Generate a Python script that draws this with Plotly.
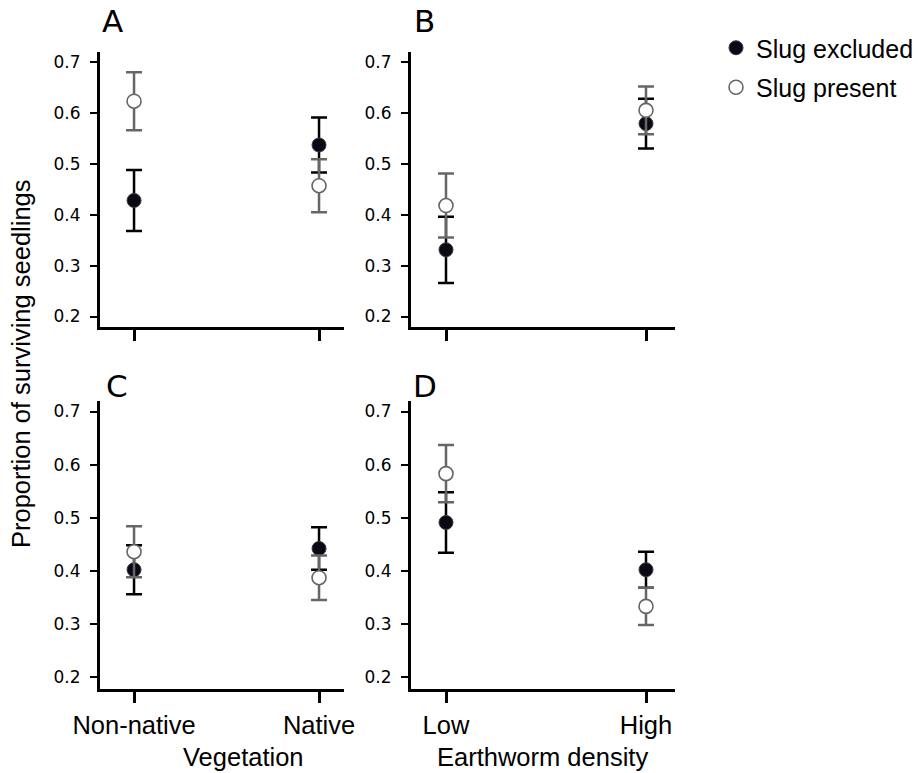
import plotly.graph_objects as go

W, H = 919, 773

# Categories
vegetation = ["Non-native", "Native"]
earthworm = ["Low", "High"]

# Panel A: vegetation (first response)
a_excl_mean = [0.428, 0.537]
a_excl_se = [0.060, 0.054]
a_pres_mean = [0.623, 0.457]
a_pres_se = [0.057, 0.052]

# Panel B: earthworm density (first response)
b_excl_mean = [0.331, 0.579]
b_excl_se = [0.065, 0.049]
b_pres_mean = [0.418, 0.605]
b_pres_se = [0.063, 0.047]

# Panel C: vegetation (second response)
c_excl_mean = [0.402, 0.442]
c_excl_se = [0.046, 0.040]
c_pres_mean = [0.436, 0.387]
c_pres_se = [0.048, 0.042]

# Panel D: earthworm density (second response)
d_excl_mean = [0.491, 0.402]
d_excl_se = [0.057, 0.034]
d_pres_mean = [0.583, 0.333]
d_pres_se = [0.054, 0.035]

y_ticks = [0.2, 0.3, 0.4, 0.5, 0.6, 0.7]
panel_letters = ["A", "B", "C", "D"]

SANS = "Liberation Sans, Arial, Helvetica, sans-serif"
DEJAVU = "DejaVu Sans, sans-serif"
SANS_SIZE = 25.5


def px_x(v):
    return v / W


def px_y(v):
    return 1 - v / H


panels = [
    # (letter, cats, excl mean, excl se, pres mean, pres se, x px box, y px box, x range, y range)
    ("A", vegetation, a_excl_mean, a_excl_se, a_pres_mean, a_pres_se,
     (100, 344), (52, 327), [-0.184, 1.135], [0.1794, 0.7196]),
    ("B", earthworm, b_excl_mean, b_excl_se, b_pres_mean, b_pres_se,
     (411, 675), (52, 327), [-0.175, 1.145], [0.1794, 0.7196]),
    ("C", vegetation, c_excl_mean, c_excl_se, c_pres_mean, c_pres_se,
     (100, 344), (401, 689), [-0.184, 1.135], [0.1774, 0.7198]),
    ("D", earthworm, d_excl_mean, d_excl_se, d_pres_mean, d_pres_se,
     (411, 675), (401, 689), [-0.175, 1.145], [0.1774, 0.7198]),
]

# baseline (px from top) of each panel letter
letter_baseline = {"A": 33, "B": 33, "C": 398, "D": 398}
letter_left = {"A": 100, "B": 412, "C": 104, "D": 411}

fig = go.Figure()
layout = {}
annotations = []

for i, (letter, cats, em, es, pm, ps, xb, yb, xr, yr) in enumerate(panels):
    n = i + 1
    xa = "x" if n == 1 else f"x{n}"
    ya = "y" if n == 1 else f"y{n}"
    xkey = "xaxis" if n == 1 else f"xaxis{n}"
    ykey = "yaxis" if n == 1 else f"yaxis{n}"
    bottom_row = letter in ("C", "D")

    xs = list(range(len(cats)))
    fig.add_trace(go.Scatter(
        x=xs, y=em, mode="markers", name="Slug excluded",
        legendgroup="excl", showlegend=(n == 1),
        xaxis=xa, yaxis=ya,
        marker=dict(size=14, color="#0a0a14", symbol="circle",
                    line=dict(color="#3a3a3a", width=1)),
        error_y=dict(type="data", array=es, color="#000000",
                     thickness=2.5, width=8),
    ))
    fig.add_trace(go.Scatter(
        x=xs, y=pm, mode="markers", name="Slug present",
        legendgroup="pres", showlegend=(n == 1),
        xaxis=xa, yaxis=ya,
        marker=dict(size=14, color="#ffffff", symbol="circle",
                    line=dict(color="#666666", width=1.6)),
        error_y=dict(type="data", array=ps, color="#666666",
                     thickness=2.5, width=8),
    ))

    layout[xkey] = dict(
        domain=[px_x(xb[0]), px_x(xb[1])], anchor=ya, range=xr,
        tickmode="array", tickvals=xs,
        ticktext=cats if bottom_row else ["", ""],
        showticklabels=bottom_row,
        ticks="outside", ticklen=11, tickwidth=3, tickcolor="black",
        showline=True, linewidth=3, linecolor="black",
        showgrid=False, zeroline=False,
        tickfont=dict(family=SANS, size=SANS_SIZE, color="black"),
        ticklabelstandoff=0,
    )
    layout[ykey] = dict(
        domain=[px_y(yb[1]), px_y(yb[0])], anchor=xa, range=yr,
        tickmode="array", tickvals=y_ticks,
        ticktext=[f"{v:.1f}" for v in y_ticks],
        ticks="outside", ticklen=7, tickwidth=2, tickcolor="black",
        showline=True, linewidth=3, linecolor="black",
        showgrid=False, zeroline=False,
        tickfont=dict(family=DEJAVU, size=17, color="black"),
        ticklabelstandoff=6,
    )

    # Panel letter
    annotations.append(dict(
        text=letter, xref="paper", yref="paper",
        x=px_x(letter_left[letter]), y=px_y(letter_baseline[letter] + 8),
        xanchor="left", yanchor="bottom", showarrow=False,
        font=dict(family=DEJAVU, size=31, color="black"),
    ))

# Axis titles
annotations.append(dict(
    text="Vegetation", xref="paper", yref="paper",
    x=px_x(243), y=px_y(757), xanchor="center", yanchor="middle",
    showarrow=False, font=dict(family=SANS, size=SANS_SIZE, color="black"),
))
annotations.append(dict(
    text="Earthworm density", xref="paper", yref="paper",
    x=px_x(542), y=px_y(757), xanchor="center", yanchor="middle",
    showarrow=False, font=dict(family=SANS, size=SANS_SIZE, color="black"),
))
annotations.append(dict(
    text="Proportion of surviving seedlings", xref="paper", yref="paper",
    x=px_x(21), y=px_y(364), xanchor="center", yanchor="middle",
    textangle=-90, showarrow=False,
    font=dict(family=SANS, size=SANS_SIZE, color="black"),
))

fig.update_layout(
    width=W, height=H,
    margin=dict(l=0, r=0, t=0, b=0, autoexpand=False),
    paper_bgcolor="white", plot_bgcolor="white",
    annotations=annotations,
    showlegend=True,
    legend=dict(
        x=px_x(716), y=px_y(25), xanchor="left", yanchor="top",
        font=dict(family=SANS, size=25, color="black"),
        bgcolor="rgba(0,0,0,0)", tracegroupgap=4,
        itemwidth=30,
    ),
    **layout,
)

fig.write_html("out.html")
